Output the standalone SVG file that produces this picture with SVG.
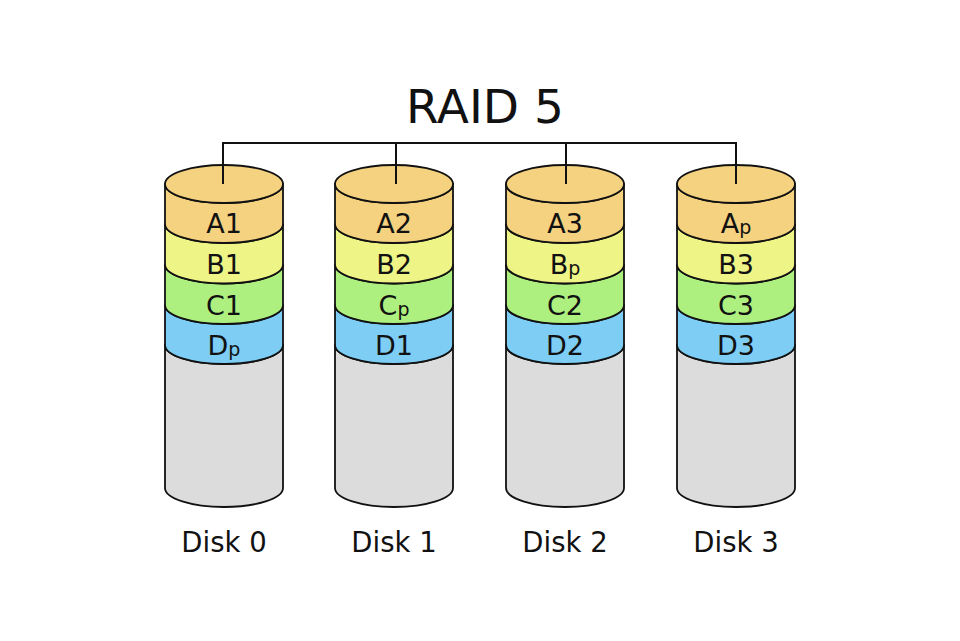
<svg xmlns="http://www.w3.org/2000/svg" width="960" height="641" viewBox="0 0 960 641">
<style>
  .s { stroke: #111; stroke-width: 1.8; stroke-linejoin: round; }
  .a { fill: #f5d27f; }
  .b { fill: #eef586; }
  .c { fill: #aef07f; }
  .d { fill: #7dcdf4; }
  .g { fill: #dcdcdc; }
  .lbl { font-family: "DejaVu Sans", "Liberation Sans", sans-serif; font-size: 27px; fill: #111; text-anchor: middle; }
  .sub { font-size: 19px; }
  .disk { font-family: "DejaVu Sans", "Liberation Sans", sans-serif; font-size: 27.5px; fill: #111; text-anchor: middle; }
  .title { font-family: "DejaVu Sans", "Liberation Sans", sans-serif; font-size: 47px; fill: #111; text-anchor: middle; }
  .conn { fill: none; stroke: #111; stroke-width: 2; }
</style>
<defs>
  <g id="cyl">
    <path class="s g" d="M -59 345 A 59 19 0 0 0 59 345 L 59 488 A 59 19 0 0 1 -59 488 Z"/>
    <path class="s d" d="M -59 305 A 59 19 0 0 0 59 305 L 59 345 A 59 19 0 0 1 -59 345 Z"/>
    <path class="s c" d="M -59 264.5 A 59 19 0 0 0 59 264.5 L 59 305 A 59 19 0 0 1 -59 305 Z"/>
    <path class="s b" d="M -59 224 A 59 19 0 0 0 59 224 L 59 264.5 A 59 19 0 0 1 -59 264.5 Z"/>
    <path class="s a" d="M -59 184 A 59 19 0 0 0 59 184 L 59 224 A 59 19 0 0 1 -59 224 Z"/>
    <ellipse class="s a" cx="0" cy="184" rx="59" ry="19"/>
  </g>
</defs>
<rect width="960" height="641" fill="#ffffff"/>
<text class="title" x="485" y="123">RAID 5</text>

<g id="disk0" transform="translate(224,0)">
  <use href="#cyl"/>
  <text class="lbl" x="0" y="233">A1</text>
  <text class="lbl" x="0" y="274">B1</text>
  <text class="lbl" x="0" y="314.5">C1</text>
  <text class="lbl" x="0" y="355">D<tspan class="sub" dy="1">p</tspan></text>
  <text class="disk" x="0" y="552">Disk 0</text>
</g>
<g id="disk1" transform="translate(394,0)">
  <use href="#cyl"/>
  <text class="lbl" x="0" y="233">A2</text>
  <text class="lbl" x="0" y="274">B2</text>
  <text class="lbl" x="0" y="314.5">C<tspan class="sub" dy="1">p</tspan></text>
  <text class="lbl" x="0" y="355">D1</text>
  <text class="disk" x="0" y="552">Disk 1</text>
</g>
<g id="disk2" transform="translate(565,0)">
  <use href="#cyl"/>
  <text class="lbl" x="0" y="233">A3</text>
  <text class="lbl" x="0" y="274">B<tspan class="sub" dy="1">p</tspan></text>
  <text class="lbl" x="0" y="314.5">C2</text>
  <text class="lbl" x="0" y="355">D2</text>
  <text class="disk" x="0" y="552">Disk 2</text>
</g>
<g id="disk3" transform="translate(736,0)">
  <use href="#cyl"/>
  <text class="lbl" x="0" y="233">A<tspan class="sub" dy="1">p</tspan></text>
  <text class="lbl" x="0" y="274">B3</text>
  <text class="lbl" x="0" y="314.5">C3</text>
  <text class="lbl" x="0" y="355">D3</text>
  <text class="disk" x="0" y="552">Disk 3</text>
</g>

<g id="connectors">
  <path class="conn" d="M 223 184 V 143 H 736 V 184"/>
  <path class="conn" d="M 396 143 V 184"/>
  <path class="conn" d="M 566 143 V 184"/>
</g>
</svg>
